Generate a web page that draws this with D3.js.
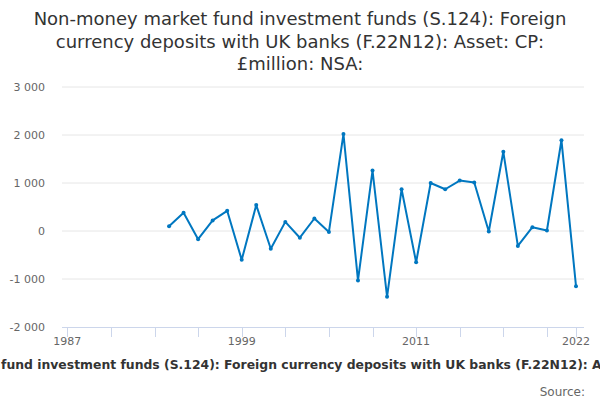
<!DOCTYPE html>
<meta charset="utf-8">
<style>
  body { margin: 0; background: #fff; }
  text { font-family: "DejaVu Sans", sans-serif; }
</style>
<div id="chart"></div>
<script src="https://d3js.org/d3.v7.min.js"></script>
<script>

// annual values, £million
var years = [1994, 1995, 1996, 1997, 1998, 1999, 2000, 2001, 2002, 2003,
             2004, 2005, 2006, 2007, 2008, 2009, 2010, 2011, 2012, 2013,
             2014, 2015, 2016, 2017, 2018, 2019, 2020, 2021, 2022];
var values = [100, 380, -170, 220, 420, -600, 540, -370, 190, -140,
              260, -20, 2020, -1030, 1260, -1370, 870, -650, 1000, 870,
              1050, 1010, -10, 1650, -310, 80, 10, 1890, -1150];
var xTicks = [1987, 1990, 1993, 1996, 1999, 2002, 2005, 2008, 2011, 2014, 2017, 2020, 2022];
var xLabels = [1987, 1999, 2011, 2022];
var yTicks = [-2000, -1000, 0, 1000, 2000, 3000];

var titleLines = ["Non-money market fund investment funds (S.124): Foreign",
                  "currency deposits with UK banks (F.22N12): Asset: CP:",
                  "£million: NSA:"];
var seriesName = "Non-money market fund investment funds (S.124): Foreign currency deposits with UK banks (F.22N12): Asset: CP: £million: NSA:";

var W = 600, H = 400;
var margin = {top: 87, right: 16, bottom: 73, left: 62};

var svg = d3.select("#chart")
  .append("svg")
    .attr("width", W)
    .attr("height", H);

var x = d3.scaleLinear()
  .domain([1987, 2022])
  .range([67.3, 576]);

var y = d3.scaleLinear()
  .domain([-2000, 3000])
  .range([H - margin.bottom, margin.top]);

var fmt = function(d) { return d3.format(",")(d).replace(/,/g, " ").replace("\u2212", "-"); };

// grid
svg.append("g")
  .selectAll("line")
  .data(yTicks.filter(function(d) { return d > -2000; }))
  .enter()
  .append("line")
    .attr("x1", margin.left)
    .attr("x2", W - margin.right)
    .attr("y1", function(d) { return y(d); })
    .attr("y2", function(d) { return y(d); })
    .attr("stroke", "#e6e6e6")
    .attr("stroke-width", 1);

// y labels
svg.append("g")
  .selectAll("text")
  .data(yTicks)
  .enter()
  .append("text")
    .attr("x", 45)
    .attr("y", function(d) { return y(d) + 4; })
    .attr("text-anchor", "end")
    .attr("font-size", "11px")
    .attr("fill", "#666")
    .text(fmt);

// x axis
svg.append("line")
  .attr("x1", margin.left)
  .attr("x2", W - margin.right)
  .attr("y1", y(-2000) + 0.5)
  .attr("y2", y(-2000) + 0.5)
  .attr("stroke", "#ccd6eb");

svg.append("g")
  .selectAll("line")
  .data(xTicks)
  .enter()
  .append("line")
    .attr("x1", function(d) { return Math.round(x(d)) + 0.5; })
    .attr("x2", function(d) { return Math.round(x(d)) + 0.5; })
    .attr("y1", y(-2000))
    .attr("y2", y(-2000) + 10)
    .attr("stroke", "#ccd6eb");

svg.append("g")
  .selectAll("text")
  .data(xLabels)
  .enter()
  .append("text")
    .attr("x", function(d) { return x(d); })
    .attr("y", y(-2000) + 18)
    .attr("text-anchor", "middle")
    .attr("font-size", "11px")
    .attr("fill", "#666")
    .text(function(d) { return d; });

// line
var data = years.map(function(d, i) { return {year: d, value: values[i]}; });

svg.append("path")
  .datum(data)
  .attr("fill", "none")
  .attr("stroke", "#0077c0")
  .attr("stroke-width", 2)
  .attr("stroke-linejoin", "round")
  .attr("d", d3.line()
    .x(function(d) { return x(d.year); })
    .y(function(d) { return y(d.value); }));

svg.append("g")
  .selectAll("circle")
  .data(data)
  .enter()
  .append("circle")
    .attr("cx", function(d) { return x(d.year); })
    .attr("cy", function(d) { return y(d.value); })
    .attr("r", 2)
    .attr("fill", "#0077c0");

// title
svg.append("text")
  .attr("text-anchor", "middle")
  .attr("font-size", "18px")
  .attr("fill", "#333")
  .selectAll("tspan")
  .data(titleLines)
  .enter()
  .append("tspan")
    .attr("x", W / 2)
    .attr("y", function(d, i) { return 25 + i * 22.5; })
    .text(function(d) { return d; });

// legend (overflows the frame, as in the original)
var legend = svg.append("text")
  .attr("x", 0)
  .attr("y", 369)
  .attr("text-anchor", "start")
  .attr("font-size", "12.4px")
  .attr("font-weight", "bold")
  .attr("fill", "#333")
  .text(seriesName);
var start = legend.node().getStartPositionOfChar(seriesName.indexOf("fund")).x;
legend.attr("x", 1 - start);

svg.append("text")
  .attr("x", 585)
  .attr("y", 396)
  .attr("text-anchor", "end")
  .attr("font-size", "12px")
  .attr("fill", "#666")
  .text("Source:");

</script>
